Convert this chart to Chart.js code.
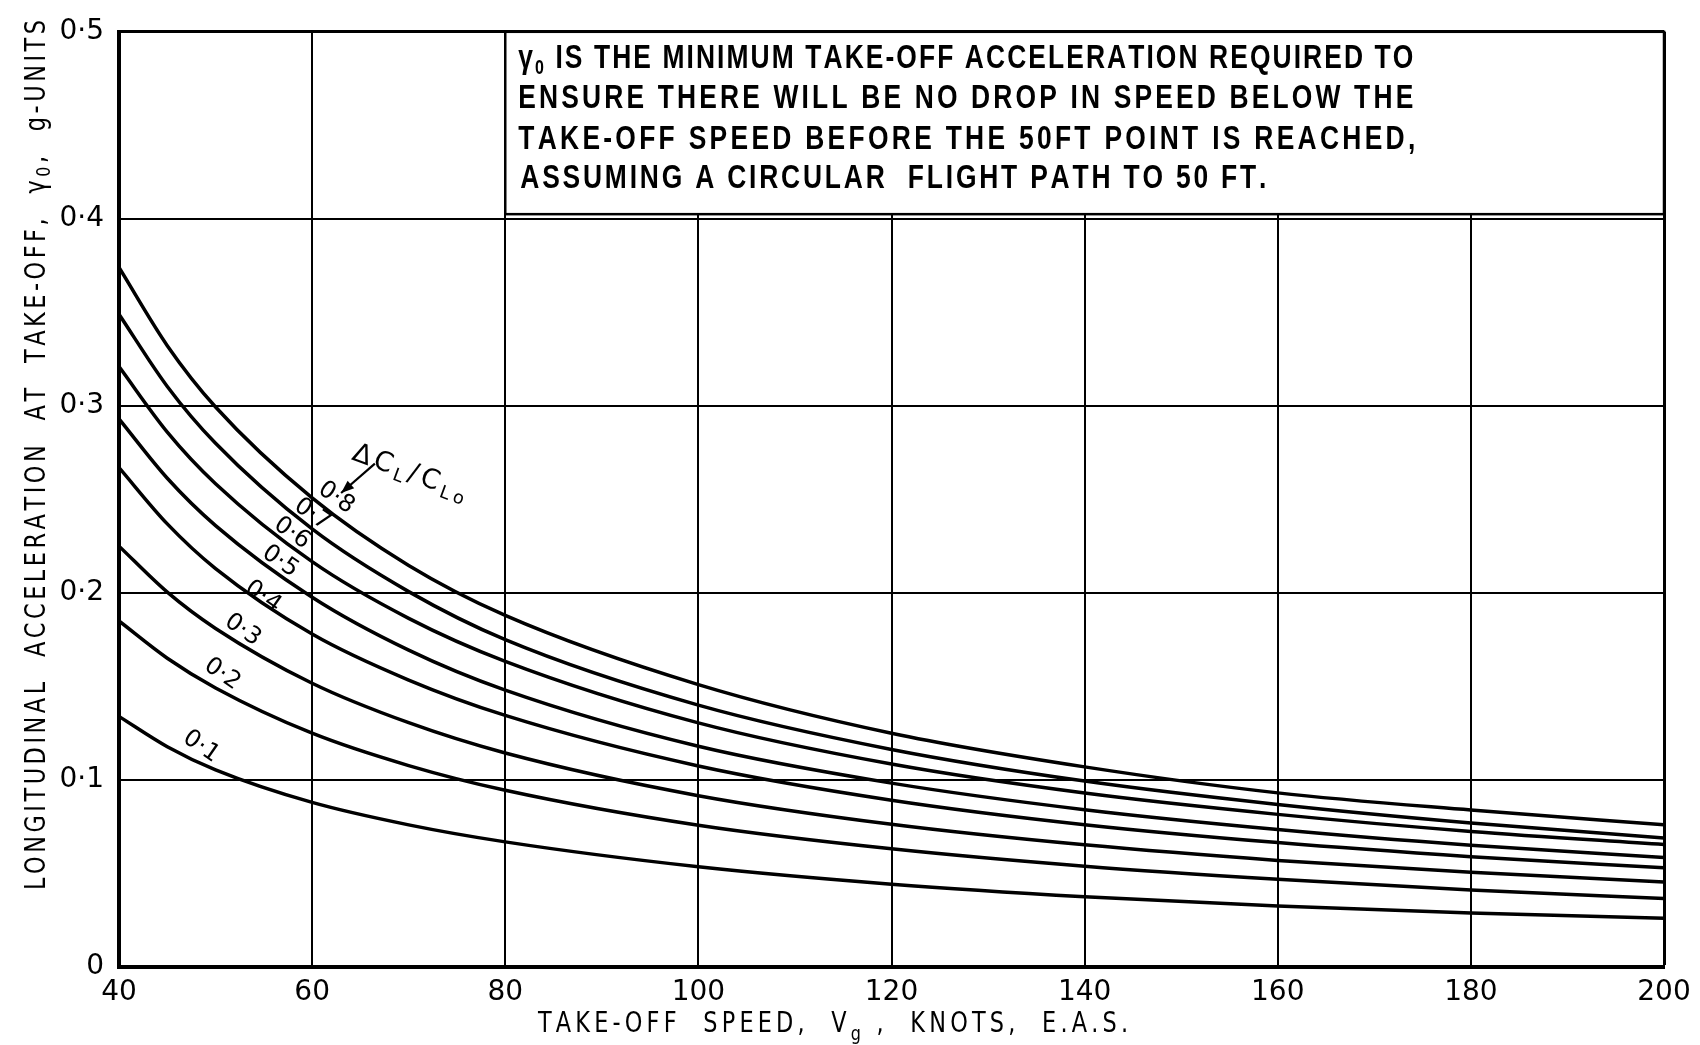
<!DOCTYPE html>
<html>
<head>
<meta charset="utf-8">
<title>Minimum take-off acceleration</title>
<script src="https://cdn.jsdelivr.net/npm/chart.js@4"></script>
<style>
  html, body { margin: 0; padding: 0; background: #fff; }
  canvas { display: block; }
</style>
</head>
<body>
<canvas id="chart" width="1700" height="1045"></canvas>
<script>
// Take-off speed V_g, knots E.A.S.
const speeds = [40, 45, 50, 60, 70, 80, 100, 120, 140, 160, 180, 200];

// Minimum longitudinal acceleration at take-off, g-units, one list per ΔCL/CLo
const accel08 = [0.374, 0.3322, 0.2994, 0.2508, 0.2147, 0.188, 0.151, 0.125, 0.107, 0.0931, 0.0839, 0.076];
const accel07 = [0.349, 0.3104, 0.280, 0.2342, 0.2007, 0.175, 0.140, 0.1163, 0.0994, 0.0869, 0.0770, 0.069];
const accel06 = [0.321, 0.286, 0.2584, 0.2167, 0.1864, 0.1634, 0.1305, 0.1085, 0.0930, 0.0816, 0.0725, 0.0655];
const accel05 = [0.293, 0.2613, 0.236, 0.1977, 0.1694, 0.148, 0.118, 0.0983, 0.0841, 0.0735, 0.0651, 0.0585];
const accel04 = [0.267, 0.2369, 0.213, 0.178, 0.1534, 0.1345, 0.1075, 0.0892, 0.0761, 0.0665, 0.0590, 0.053];
const accel03 = [0.225, 0.2004, 0.181, 0.1517, 0.1306, 0.1144, 0.0916, 0.0763, 0.0653, 0.0570, 0.0506, 0.0455];
const accel02 = [0.185, 0.1651, 0.1492, 0.125, 0.1077, 0.0945, 0.0758, 0.0632, 0.0539, 0.0469, 0.0412, 0.0366];
const accel01 = [0.134, 0.1178, 0.1054, 0.088, 0.076, 0.0669, 0.0536, 0.0443, 0.0376, 0.0326, 0.0289, 0.026];

const ratioNames = ['0·1', '0·2', '0·3', '0·4', '0·5', '0·6', '0·7', '0·8'];
const ratioSeries = [accel01, accel02, accel03, accel04, accel05, accel06, accel07, accel08];

// Axis ticks
const xTickValues = [40, 60, 80, 100, 120, 140, 160, 180, 200];
const yTickValues = [0, 0.1, 0.2, 0.3, 0.4, 0.5];
const yTickLabels = ['0', '0·1', '0·2', '0·3', '0·4', '0·5'];

// ---------------------------------------------------------------------------
const INK = '#000';
const F_TICK = '"DejaVu Sans", sans-serif';
const F_BOX = 'bold 33px "Liberation Sans", Arial, sans-serif';
const F_BOX_SUB = 'bold 20px "Liberation Sans", Arial, sans-serif';
const F_TITLE = '28px "DejaVu Sans", sans-serif';
const F_TITLE_SUB = '20px "DejaVu Sans", sans-serif';
const F_CURVE = '24px "DejaVu Sans", sans-serif';
const F_KEY = '27px "DejaVu Sans", sans-serif';
const F_KEY_SUB = '18px "DejaVu Sans", sans-serif';
const NARROW = 0.8;

// Where each ΔCL/CLo value is written beside its curve (speed, acceleration)
const curveLabelSpots = [
  [48.5, 0.1178], [50.7, 0.1565], [52.8, 0.1801], [54.9, 0.1979],
  [56.7, 0.2168], [57.9, 0.2319], [60.0, 0.2419], [62.5, 0.2508]
];

// Draw a run of glyphs spread evenly between x0 and x1 on one baseline.
// Each part may be squeezed horizontally by its sx factor.
function spanText(ctx, parts, x0, x1, baseY) {
  const glyphs = [];
  let natural = 0;
  for (const p of parts) {
    ctx.font = p.font;
    const sx = p.sx || 1;
    for (const ch of p.t) {
      const w = ctx.measureText(ch).width * sx;
      glyphs.push({ ch, w, sx, font: p.font, dy: p.dy || 0 });
      natural += w;
    }
  }
  const gap = glyphs.length > 1 ? (x1 - x0 - natural) / (glyphs.length - 1) : 0;
  ctx.textAlign = 'left';
  ctx.textBaseline = 'alphabetic';
  let x = x0;
  for (const g of glyphs) {
    ctx.save();
    ctx.translate(x, baseY + g.dy);
    ctx.scale(g.sx, 1);
    ctx.font = g.font;
    ctx.fillText(g.ch, 0, 0);
    ctx.restore();
    x += g.w + gap;
  }
}

const notes = {
  id: 'notes',
  afterDraw(chart) {
    const { ctx } = chart;
    const xs = chart.scales.x, ys = chart.scales.y;
    ctx.save();
    ctx.fillStyle = INK;
    ctx.strokeStyle = INK;

    // Explanatory box in the top-right corner of the grid
    const bl = xs.getPixelForValue(80), br = xs.getPixelForValue(200);
    const bt = ys.getPixelForValue(0.5), bb = ys.getPixelForValue(0.4025);
    ctx.fillStyle = '#fff';
    ctx.fillRect(bl, bt, br - bl, bb - bt);
    ctx.lineWidth = 2.5;
    ctx.strokeRect(bl, bt, br - bl, bb - bt);
    ctx.fillStyle = INK;
    spanText(ctx, [
      { t: 'γ', font: F_BOX, sx: NARROW },
      { t: '0', font: F_BOX_SUB, dy: 6, sx: NARROW },
      { t: ' IS THE MINIMUM TAKE-OFF ACCELERATION REQUIRED TO', font: F_BOX, sx: NARROW }
    ], bl + 13, bl + 908, bt + 36);
    spanText(ctx, [{ t: 'ENSURE THERE WILL BE NO DROP IN SPEED BELOW THE', font: F_BOX, sx: NARROW }],
      bl + 13, bl + 908, bt + 76);
    spanText(ctx, [{ t: 'TAKE-OFF SPEED BEFORE THE 50FT POINT IS REACHED,', font: F_BOX, sx: NARROW }],
      bl + 13, bl + 910, bt + 117);
    spanText(ctx, [{ t: 'ASSUMING A CIRCULAR  FLIGHT PATH TO 50 FT.', font: F_BOX, sx: NARROW }],
      bl + 15, bl + 761, bt + 156);

    // Axis titles
    ctx.save();
    ctx.translate(45, 890);
    ctx.rotate(-Math.PI / 2);
    spanText(ctx, [
      { t: 'LONGITUDINAL  ACCELERATION  AT  TAKE-OFF,  γ', font: F_TITLE, sx: NARROW },
      { t: '0', font: F_TITLE_SUB, dy: 5, sx: NARROW },
      { t: ',  g-UNITS', font: F_TITLE, sx: NARROW }
    ], 0, 870, 0);
    ctx.restore();

    spanText(ctx, [
      { t: 'TAKE-OFF  SPEED,  V', font: F_TITLE, sx: NARROW },
      { t: 'g', font: F_TITLE_SUB, dy: 8, sx: NARROW },
      { t: ' ,  KNOTS,  E.A.S.', font: F_TITLE, sx: NARROW }
    ], 538, 1128, 1032);

    // Curve values
    curveLabelSpots.forEach(([v, a], i) => {
      ctx.save();
      ctx.translate(xs.getPixelForValue(v), ys.getPixelForValue(a));
      ctx.rotate(35 * Math.PI / 180);
      ctx.font = F_CURVE;
      ctx.textAlign = 'center';
      ctx.textBaseline = 'middle';
      ctx.fillText(ratioNames[i], 0, 0);
      ctx.restore();
    });

    // ΔCL/CLo key with its arrow
    ctx.save();
    ctx.translate(xs.getPixelForValue(64.0), ys.getPixelForValue(0.2715));
    ctx.rotate(20 * Math.PI / 180);
    spanText(ctx, [
      { t: 'ΔC', font: F_KEY },
      { t: 'L', font: F_KEY_SUB, dy: 5 },
      { t: '/C', font: F_KEY },
      { t: 'Lo', font: F_KEY_SUB, dy: 5 }
    ], 0, 120, 0);
    ctx.restore();

    const ax0 = xs.getPixelForValue(66.5), ay0 = ys.getPixelForValue(0.2691);
    const ax1 = xs.getPixelForValue(63.0), ay1 = ys.getPixelForValue(0.2534);
    ctx.lineWidth = 2.2;
    ctx.beginPath();
    ctx.moveTo(ax0, ay0);
    ctx.lineTo(ax1, ay1);
    ctx.stroke();
    const ang = Math.atan2(ay1 - ay0, ax1 - ax0);
    ctx.beginPath();
    ctx.moveTo(ax1, ay1);
    ctx.lineTo(ax1 - 13 * Math.cos(ang) + 5 * Math.sin(ang), ay1 - 13 * Math.sin(ang) - 5 * Math.cos(ang));
    ctx.lineTo(ax1 - 13 * Math.cos(ang) - 5 * Math.sin(ang), ay1 - 13 * Math.sin(ang) + 5 * Math.cos(ang));
    ctx.closePath();
    ctx.fill();

    ctx.restore();
  }
};

const datasets = ratioSeries.map((series, i) => ({
  label: ratioNames[i],
  data: speeds.map((v, k) => ({ x: v, y: series[k] })),
  showLine: true,
  borderColor: INK,
  borderWidth: 3.5,
  pointRadius: 0,
  fill: false,
  cubicInterpolationMode: 'monotone'
}));

new Chart(document.getElementById('chart'), {
  type: 'scatter',
  data: { datasets },
  options: {
    responsive: false,
    animation: false,
    events: [],
    layout: { padding: { top: 14, right: 36, bottom: 0, left: 0 } },
    plugins: { legend: { display: false }, tooltip: { enabled: false } },
    scales: {
      x: {
        type: 'linear',
        min: 40,
        max: 200,
        afterBuildTicks: s => { s.ticks = xTickValues.map(v => ({ value: v })); },
        afterFit: s => { s.height = 78; },
        ticks: {
          autoSkip: false,
          maxRotation: 0,
          padding: 9,
          color: INK,
          font: { family: F_TICK, size: 28 },
          callback: v => String(v)
        },
        grid: {
          color: INK,
          lineWidth: c => (c.tick && c.tick.value === 200 ? 3 : 2),
          drawTicks: false
        },
        border: { display: true, color: INK, width: 4 }
      },
      y: {
        type: 'linear',
        min: 0,
        max: 0.5,
        afterBuildTicks: s => { s.ticks = yTickValues.map(v => ({ value: v })); },
        afterFit: s => { s.width = 119; },
        ticks: {
          autoSkip: false,
          padding: 15,
          color: INK,
          font: { family: F_TICK, size: 28 },
          callback: (v, i) => yTickLabels[i]
        },
        grid: {
          color: INK,
          lineWidth: c => (c.tick && Math.abs(c.tick.value - 0.5) < 1e-9 ? 3 : 2),
          drawTicks: false
        },
        border: { display: true, color: INK, width: 4 }
      }
    }
  },
  plugins: [notes]
});
</script>
</body>
</html>
